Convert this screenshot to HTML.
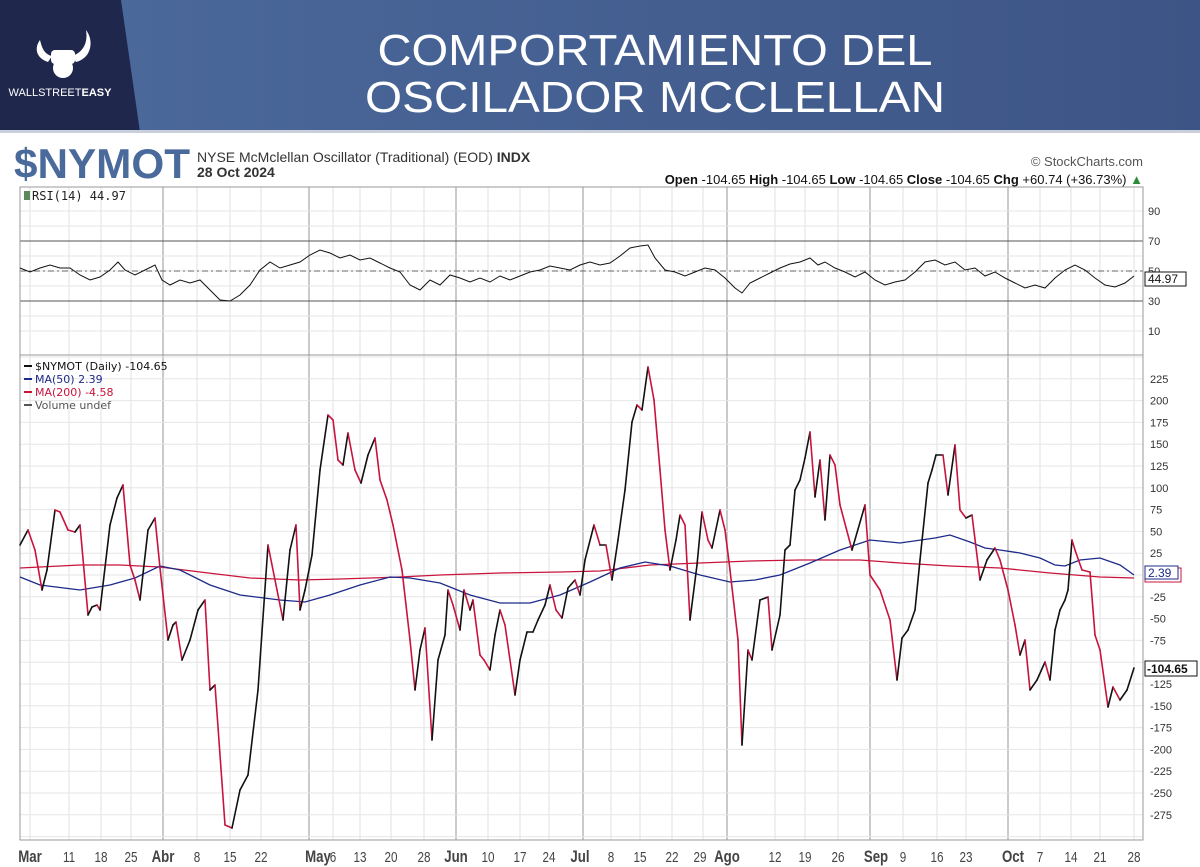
<!DOCTYPE html>
<html><head><meta charset="utf-8"><style>
html,body{margin:0;padding:0;background:#fff;width:1200px;height:867px;overflow:hidden;font-family:"Liberation Sans",sans-serif}
</style></head><body>
<svg id="s" width="1200" height="867" xmlns="http://www.w3.org/2000/svg" style="position:absolute;left:0;top:0">
<defs><linearGradient id="g" x1="0" x2="1"><stop offset="0" stop-color="#4c6a9c"/><stop offset="1" stop-color="#3d5586"/></linearGradient></defs>
<rect x="0" y="0" width="1200" height="132" fill="url(#g)"/>
<polygon points="0,0 121,0 140,132 0,132" fill="#1f284c"/>
<rect x="0" y="130" width="1200" height="3" fill="#c9d0dc"/>
<g fill="#fff">
<path d="M40,40 C34,48 36,58 48,62 L52,56 C44,54 42,48 40,40Z"/>
<path d="M86,30 C94,40 92,58 76,62 L72,56 C84,52 88,42 86,30Z"/>
<rect x="51" y="50" width="24" height="14" rx="4"/>
<circle cx="63" cy="68" r="10"/>
</g>
<text x="60" y="96" fill="#fff" font-size="11" text-anchor="middle">WALLSTREET<tspan font-weight="bold">EASY</tspan></text>
<text x="655" y="65" fill="#fff" font-size="44" text-anchor="middle" textLength="555" lengthAdjust="spacingAndGlyphs">COMPORTAMIENTO DEL</text>
<text x="655" y="112" fill="#fff" font-size="44" text-anchor="middle" textLength="580" lengthAdjust="spacingAndGlyphs">OSCILADOR MCCLELLAN</text>
<text x="14" y="178" fill="#4a6a9c" font-size="42" font-weight="bold" textLength="176" lengthAdjust="spacingAndGlyphs">$NYMOT</text>
<text x="197" y="162" fill="#333" font-size="14">NYSE McMclellan Oscillator (Traditional) (EOD) <tspan font-weight="bold">INDX</tspan></text>
<text x="197" y="177" fill="#333" font-size="14" font-weight="bold">28 Oct 2024</text>
<text x="1143" y="166" fill="#555" font-size="13" text-anchor="end">© StockCharts.com</text>
<text x="1143" y="184" fill="#111" font-size="13" text-anchor="end"><tspan font-weight="bold">Open</tspan> -104.65  <tspan font-weight="bold">High</tspan> -104.65  <tspan font-weight="bold">Low</tspan> -104.65  <tspan font-weight="bold">Close</tspan> -104.65  <tspan font-weight="bold">Chg</tspan> +60.74 (+36.73%) <tspan fill="#2a8a3a">▲</tspan></text>
<g id="grid"></g>
<g id="data"></g>
</svg>
<script>
var NS="http://www.w3.org/2000/svg",G=document.getElementById('grid'),D=document.getElementById('data');
function el(p,t,a,txt){var e=document.createElementNS(NS,t);for(var k in a)e.setAttribute(k,a[k]);if(txt!==undefined)e.textContent=txt;p.appendChild(e);return e;}
var L=20,R=1143;
var vx=[30,69,101,131,163,197,230,261,309,333,360,391,424,456,488,520,549,583,611,640,672,703,727,775,805,838,870,903,937,966,1008,1040,1071,1100,1134];
var major=[163,309,456,583,727,870,1008];
vx.forEach(function(x){var m=major.indexOf(x)>=0;el(G,'line',{x1:x,x2:x,y1:187,y2:840,stroke:m?'#b8b8b8':'#e2e2e2','stroke-width':m?1.5:1});});
function ry(v){return 331-(v-10)*1.5;}
for(var v=10;v<=90;v+=10){el(G,'line',{x1:L,x2:R,y1:ry(v),y2:ry(v),stroke:'#e6e6e6'});}
[10,30,50,70,90].forEach(function(v){el(G,'text',{x:1148,y:ry(v)+4,'font-size':11,fill:'#333'},v);});
el(G,'line',{x1:L,x2:R,y1:ry(70),y2:ry(70),stroke:'#555'});
el(G,'line',{x1:L,x2:R,y1:ry(30),y2:ry(30),stroke:'#555'});
el(G,'line',{x1:L,x2:R,y1:ry(50),y2:ry(50),stroke:'#666','stroke-dasharray':'6,3,2,3'});
el(G,'rect',{x:L,y:187,width:R-L,height:168,fill:'none',stroke:'#999'});
el(G,'text',{x:32,y:200,'font-size':12,fill:'#222','font-family':'DejaVu Sans Mono, monospace'},'RSI(14) 44.97');
el(G,'rect',{x:24,y:191,width:6,height:9,fill:'#5a8a5a'});
function my(v){return 575-v*0.872;}
for(var v=-300;v<=250;v+=25){var y=my(v);if(y>356&&y<840){el(G,'line',{x1:L,x2:R,y1:y,y2:y,stroke:'#e6e6e6'});
 if(v>=-275&&v<=225&&v!=0&&v!=-100)el(G,'text',{x:1150,y:y+4,'font-size':11,fill:'#333'},v);}}
el(G,'rect',{x:L,y:355,width:R-L,height:485,fill:'none',stroke:'#999'});
var labs=[[30,'Mar',1],[69,'11'],[101,'18'],[131,'25'],[163,'Abr',1],[197,'8'],[230,'15'],[261,'22'],[318,'May',1],[333,'6'],[360,'13'],[391,'20'],[424,'28'],[456,'Jun',1],[488,'10'],[520,'17'],[549,'24'],[580,'Jul',1],[611,'8'],[640,'15'],[672,'22'],[700,'29'],[727,'Ago',1],[775,'12'],[805,'19'],[838,'26'],[876,'Sep',1],[903,'9'],[937,'16'],[966,'23'],[1013,'Oct',1],[1040,'7'],[1071,'14'],[1100,'21'],[1134,'28']];
labs.forEach(function(a){var t=el(G,'text',{'font-size':a[2]?17:15,'font-weight':a[2]?'bold':'normal','text-anchor':'middle',fill:'#444',transform:'translate('+a[0]+',862) scale(0.78,1)'},a[1]);});
function pts(a){return a.map(function(p){return p.join(',');}).join(' ');}
var ma200=[[20,568],[80,565],[120,565],[160,567],[200,572],[250,578],[300,580],[340,579],[400,577],[440,575],[500,573],[560,572],[600,571],[650,565],[700,563],[750,561],[800,560],[860,560],[900,563],[950,566],[1000,568],[1050,573],[1100,577],[1134,578]];
var ma50=[[20,577],[40,585],[80,590],[110,585],[135,578],[160,566],[180,570],[210,585],[240,595],[280,600],[305,602],[330,595],[360,585],[390,577],[410,578],[440,583],[470,595],[500,603],[530,603],[560,595],[590,582],[620,568],[645,562],[670,566],[700,575],[730,582],[755,580],[780,575],[810,563],[840,550],[870,540],[900,543],[935,538],[950,535],[970,542],[985,548],[1000,550],[1020,553],[1040,558],[1055,565],[1065,566],[1080,560],[1100,558],[1120,565],[1134,575]];
el(D,'polyline',{points:pts(ma200),fill:'none',stroke:'#c8143c','stroke-width':1.3});
el(D,'polyline',{points:pts(ma50),fill:'none',stroke:'#1c2a8a','stroke-width':1.3});
var m=[[20,545],[28,530],[35,550],[42,590],[47,570],[55,510],[60,512],[68,530],[75,532],[80,525],[88,615],[92,607],[97,605],[100,610],[110,525],[117,498],[123,485],[130,565],[135,580],[140,600],[148,530],[155,518],[160,568],[168,640],[173,625],[176,622],[182,660],[190,640],[198,610],[205,600],[210,690],[215,685],[225,825],[232,828],[240,790],[248,775],[258,690],[268,545],[277,590],[283,620],[290,550],[296,525],[300,610],[305,590],[312,555],[320,470],[328,415],[333,420],[338,460],[343,465],[348,433],[355,470],[361,483],[368,455],[375,438],[380,480],[387,500],[393,525],[402,570],[410,640],[415,690],[420,650],[425,628],[432,740],[438,660],[445,635],[448,590],[453,605],[460,630],[464,590],[470,610],[473,600],[480,655],[484,660],[490,670],[495,635],[500,610],[505,625],[515,695],[520,660],[527,632],[533,632],[538,620],[545,605],[550,585],[556,610],[562,618],[568,588],[575,580],[580,595],[585,560],[594,525],[600,545],[606,545],[612,580],[618,540],[625,490],[632,422],[637,405],[642,410],[648,367],[654,400],[660,470],[665,530],[670,570],[676,540],[680,515],[685,525],[690,620],[697,565],[702,512],[708,540],[712,548],[720,510],[725,530],[730,570],[738,640],[742,745],[748,650],[752,660],[760,600],[768,597],[772,650],[780,615],[785,550],[790,545],[795,490],[800,480],[805,458],[810,432],[815,497],[820,460],[825,520],[830,455],[835,465],[840,505],[852,550],[865,505],[870,575],[880,590],[890,620],[897,680],[902,638],[908,630],[915,610],[920,560],[928,483],[932,470],[936,455],[943,455],[948,495],[955,445],[960,510],[966,518],[972,515],[980,580],[987,560],[995,548],[1000,560],[1008,590],[1015,625],[1020,655],[1025,640],[1030,690],[1037,680],[1045,662],[1050,680],[1055,630],[1060,610],[1065,600],[1068,590],[1072,540],[1075,550],[1082,570],[1090,572],[1095,635],[1100,650],[1108,707],[1113,687],[1120,700],[1127,690],[1134,668]];
for(var i=1;i<m.length;i++){var a=m[i-1],b=m[i];el(D,'line',{x1:a[0],y1:a[1],x2:b[0],y2:b[1],stroke:b[1]>a[1]?'#c8143c':'#111','stroke-width':1.6,'stroke-linecap':'round'});}
var r=[[20,268],[30,272],[40,268],[50,265],[60,268],[70,268],[80,275],[90,280],[100,277],[110,270],[118,262],[125,270],[135,275],[145,270],[155,265],[162,280],[170,285],[180,280],[190,283],[200,280],[210,290],[220,300],[230,301],[240,295],[250,285],[260,270],[270,262],[280,268],[290,265],[300,262],[310,255],[320,250],[330,253],[340,258],[350,255],[360,260],[370,258],[380,263],[390,268],[400,272],[410,285],[420,290],[430,280],[440,285],[450,275],[460,278],[470,282],[480,278],[490,282],[500,276],[510,280],[520,276],[530,272],[540,270],[550,266],[560,268],[570,270],[580,265],[590,262],[600,265],[610,263],[620,256],[630,248],[640,246],[648,245],[655,258],[665,270],[675,272],[685,276],[695,272],[705,268],[715,270],[725,278],[735,288],[742,293],[750,283],[760,278],[770,273],[780,268],[790,264],[800,262],[810,258],[818,265],[825,262],[835,268],[845,272],[855,277],[865,272],[875,280],[885,285],[895,282],[905,280],[915,272],[925,262],[935,260],[945,265],[955,262],[965,270],[975,268],[985,276],[995,272],[1005,278],[1015,283],[1025,288],[1035,285],[1045,288],[1055,278],[1065,270],[1075,265],[1085,270],[1095,278],[1105,285],[1115,287],[1125,283],[1134,276]];
el(D,'polyline',{points:pts(r),fill:'none',stroke:'#111','stroke-width':1});
var lg=[['#111','$NYMOT (Daily) -104.65',370],['#1c2a8a','MA(50) 2.39',383],['#c8143c','MA(200) -4.58',396],['#555','Volume undef',409]];
lg.forEach(function(a){el(D,'rect',{x:24,y:a[2]-5,width:8,height:2,fill:a[0]});el(D,'text',{x:35,y:a[2],'font-size':11,fill:a[0],'font-family':'DejaVu Sans, sans-serif'},a[1]);});
el(D,'rect',{x:1145,y:568,width:36,height:14,fill:'#fff',stroke:'#c8143c'});
el(D,'rect',{x:1145,y:566,width:33,height:13,fill:'#fff',stroke:'#1c2a8a'});
el(D,'text',{x:1148,y:577,'font-size':12,fill:'#1c2a8a'},'2.39');
el(D,'rect',{x:1145,y:661,width:52,height:15,fill:'#fff',stroke:'#111'});
el(D,'text',{x:1147,y:673,'font-size':12,'font-weight':'bold',fill:'#111'},'-104.65');
el(D,'rect',{x:1145,y:272,width:41,height:14,fill:'#fff',stroke:'#111'});
el(D,'text',{x:1148,y:283,'font-size':12,fill:'#111'},'44.97');
</script>
</body></html>
